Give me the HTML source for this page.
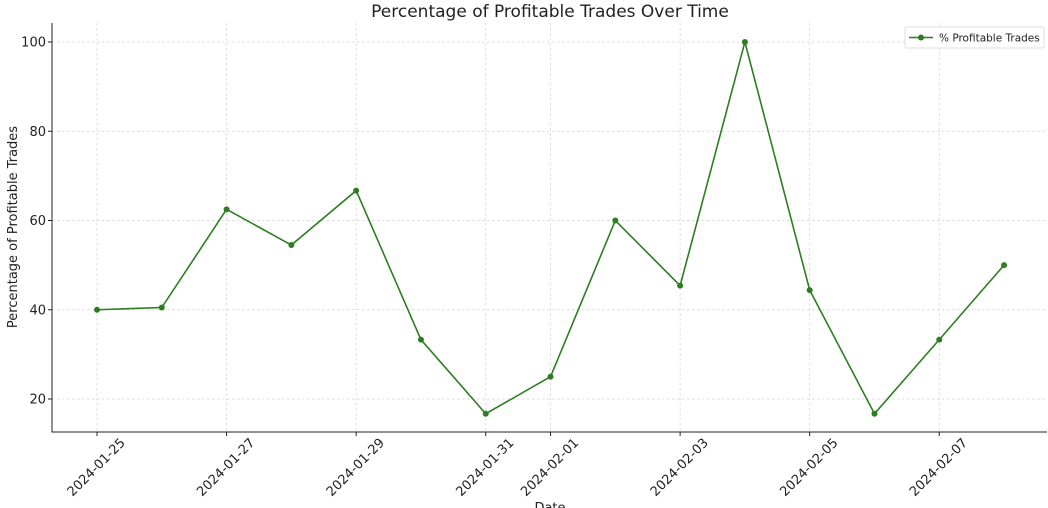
<!DOCTYPE html>
<html><head><meta charset="utf-8"><style>
body{margin:0;background:#fff;}
svg{display:block;font-family:"DejaVu Sans","Liberation Sans",sans-serif;}
</style></head><body>
<svg id="chart" width="1048" height="508"></svg>
<script>
const dates=["2024-01-25","2024-01-26","2024-01-27","2024-01-28","2024-01-29","2024-01-30","2024-01-31","2024-02-01","2024-02-02","2024-02-03","2024-02-04","2024-02-05","2024-02-06","2024-02-07","2024-02-08"];
const values=[40,40.5,62.5,54.5,66.7,33.3,16.7,25,60,45.4,100,44.4,16.7,33.3,50];
const xTickLabels=["2024-01-25","2024-01-27","2024-01-29","2024-01-31","2024-02-01","2024-02-03","2024-02-05","2024-02-07"];
const yTicks=[20,40,60,80,100];

const NS="http://www.w3.org/2000/svg";
const svg=document.getElementById('chart');
const L=52,R=1047,T=23,B=432;
const d0=Date.parse("2024-01-25");
function dayIdx(s){return (Date.parse(s)-d0)/86400000;}
function x(s){return 97+dayIdx(s)*64.79;}
function y(v){return 42+(100-v)*4.4625;}
function el(tag,attrs,parent){const e=document.createElementNS(NS,tag);for(const k in attrs)e.setAttribute(k,attrs[k]);(parent||svg).appendChild(e);return e;}

yTicks.forEach(v=>{
  const g=el('line',{x1:L,x2:R,y1:y(v),y2:y(v),stroke:'#d0d0d0','stroke-dasharray':'2.5,2.5','stroke-width':0.7});
  
  
  const t=el('text',{x:L-6,y:y(v)+4.5,'text-anchor':'end','font-size':13,fill:'#222'});
  t.textContent=v;
  
  
  el('line',{x1:L-4,x2:L,y1:y(v),y2:y(v),stroke:'#222'});
});
xTickLabels.forEach(s=>{
  const g=el('line',{x1:x(s),x2:x(s),y1:T,y2:B,stroke:'#d0d0d0','stroke-dasharray':'2.5,2.5','stroke-width':0.7});
  
  
  el('line',{x1:x(s),x2:x(s),y1:B,y2:B+4,stroke:'#222'});
  const cx=x(s)-1, cy=B+35;
  const t=el('text',{x:cx,y:cy+4.5,'text-anchor':'middle','font-size':13,fill:'#222',transform:`rotate(-45 ${cx} ${cy})`});
  t.textContent=s;
  
  
});
const ax=el('path',{d:`M${L},${T}V${B}H${R}`,fill:'none',stroke:'#222','stroke-width':1});



const line=el('polyline',{points:dates.map((d,i)=>x(d)+','+y(values[i])).join(' '),fill:'none',stroke:'#2e7d22','stroke-width':1.6});


dates.forEach((d,i)=>{
  const c=el('circle',{cx:x(d),cy:y(values[i]),r:3,fill:'#2e7d22'});
  
  
});

let t=el('text',{x:550,y:17,'text-anchor':'middle','font-size':17,fill:'#222'});
t.textContent="Percentage of Profitable Trades Over Time";


t=el('text',{x:17,y:227,'text-anchor':'middle','font-size':13,fill:'#222',transform:'rotate(-90 17 227)'});
t.textContent="Percentage of Profitable Trades";


t=el('text',{x:550,y:512,'text-anchor':'middle','font-size':13,fill:'#222'});
t.textContent="Date";



const lg=el('g',{});


el('rect',{x:905,y:27,width:139,height:21,rx:2,fill:'#fff',stroke:'#ddd'},lg);
el('line',{x1:909,x2:933,y1:37.5,y2:37.5,stroke:'#2e7d22','stroke-width':1.6},lg);
el('circle',{cx:921,cy:37.5,r:3,fill:'#2e7d22'},lg);
t=el('text',{x:939,y:41.5,'font-size':10.5,fill:'#222'},lg);
t.textContent="% Profitable Trades";


</script>
</body></html>
